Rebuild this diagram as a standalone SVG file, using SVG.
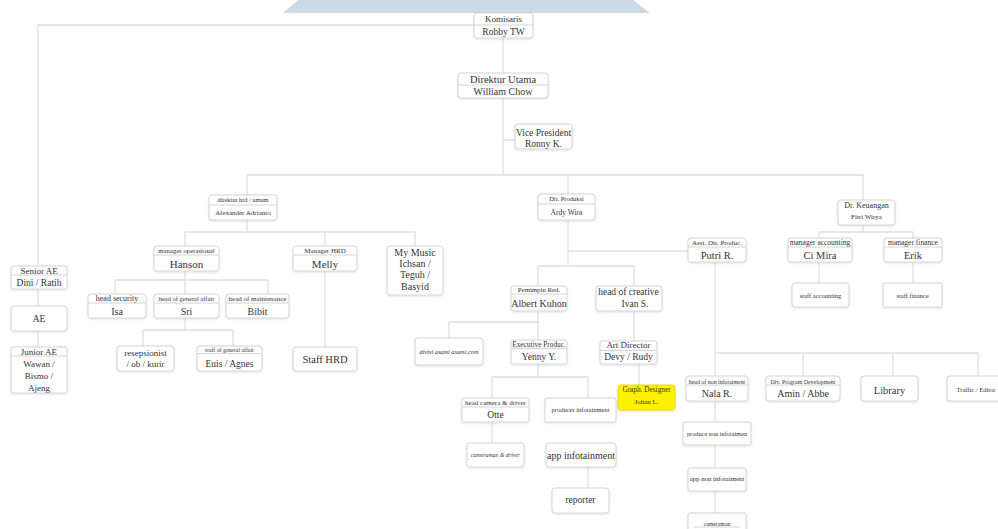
<svg xmlns="http://www.w3.org/2000/svg" width="998" height="529" viewBox="0 0 998 529">
<defs>
<filter id="sh" x="-10%" y="-10%" width="120%" height="130%">
<feDropShadow dx="0" dy="1" stdDeviation="0.8" flood-color="#000" flood-opacity="0.12"/>
</filter>
<style>
.box{fill:#fff;stroke:#d4d4d4;stroke-width:1;filter:url(#sh)}
.yel{fill:#fff200;stroke:#e8dc00;stroke-width:1;filter:url(#sh)}
.dv{stroke:#d4d4d4;stroke-width:1}
.ln{fill:none;stroke:#e0e0e0;stroke-width:1.3}
text{font-family:"Liberation Serif","Times New Roman",serif;fill:#333;text-anchor:middle}
.it{font-style:italic}
</style>
</defs>
<rect width="998" height="529" fill="#fff"/>
<polygon points="298,0 633,0 650,13 283,13" fill="#cdd9e4"/>

<g id="connectors">
<path class="ln" d="M474,25 H38 V347"/>
<path class="ln" d="M503,38 V175 M503,140 H515"/>
<path class="ln" d="M247,175 H863 M247,175 V195 M568,175 V194 M863,175 V200"/>
<path class="ln" d="M247,220 V232 M185,232 H415 M185,232 V246 M325,232 V246 M415,232 V246"/>
<path class="ln" d="M185,271 V280 M115,280 H268 M115,280 V294 M185,280 V294 M268,280 V294"/>
<path class="ln" d="M185,318 V330 M143,330 H233 M143,330 V346 M233,330 V346"/>
<path class="ln" d="M325,271 V347"/>
<path class="ln" d="M568,220 V266 M568,251 H688 M538,266 H634 M538,266 V286 M634,266 V286"/>
<path class="ln" d="M538,311 V340 M449,322 H538 M449,322 V338"/>
<path class="ln" d="M634,311 V341 M639,364 V385"/>
<path class="ln" d="M538,364 V377 M492,377 H588 M492,377 V398 M588,377 V398"/>
<path class="ln" d="M492,422 V443 M588,467 V488"/>
<path class="ln" d="M715,262 V513 M715,353 H978 M803,353 V376 M893,353 V376 M978,353 V376"/>
<path class="ln" d="M863,225 V232 M819,232 H913 M819,232 V238 M913,232 V238 M819,262 V283 M913,262 V283"/>
</g>

<g id="komisaris">
<rect class="box" x="474" y="13" width="59" height="25" rx="3"/>
<line class="dv" x1="474" y1="25" x2="533" y2="25"/>
<text x="503.5" y="22" font-size="9">Komisaris</text>
<text x="503.5" y="35" font-size="9.5">Robby TW</text>
</g>
<g id="direktur-utama">
<rect class="box" x="458" y="73" width="90" height="25" rx="3"/>
<line class="dv" x1="458" y1="85" x2="548" y2="85"/>
<text x="503" y="82.5" font-size="10.5">Direktur Utama</text>
<text x="503" y="95" font-size="10">William Chow</text>
</g>
<g id="vice-president">
<rect class="box" x="515" y="124" width="57" height="25" rx="3"/>
<text x="543.5" y="135.5" font-size="9.5">Vice President</text>
<text x="543.5" y="146.5" font-size="9.5">Ronny K.</text>
</g>
<g id="direktur-hrd">
<rect class="box" x="209" y="195" width="68" height="25" rx="3"/>
<line class="dv" x1="209" y1="205" x2="277" y2="205"/>
<text x="243" y="202.3" font-size="6.3">direktur hrd / umum</text>
<text x="243" y="215" font-size="7">Alexander Adrianto</text>
</g>
<g id="hanson">
<rect class="box" x="154" y="246" width="65" height="25" rx="3"/>
<line class="dv" x1="154" y1="255" x2="219" y2="255"/>
<text x="186.5" y="253" font-size="6.8">manager operasional</text>
<text x="186.5" y="268" font-size="11">Hanson</text>
</g>
<g id="melly">
<rect class="box" x="293" y="246" width="64" height="25" rx="3"/>
<line class="dv" x1="293" y1="255" x2="357" y2="255"/>
<text x="325" y="253" font-size="7">Manager HRD</text>
<text x="325" y="268" font-size="11">Melly</text>
</g>
<g id="my-music">
<rect class="box" x="387" y="246" width="56" height="49" rx="3"/>
<text x="415" y="255.5" font-size="10">My Music</text>
<text x="415" y="266.5" font-size="10">Ichsan /</text>
<text x="415" y="277.5" font-size="10">Teguh /</text>
<text x="415" y="289.5" font-size="10">Basyid</text>
</g>
<g id="isa">
<rect class="box" x="88" y="294" width="58" height="24" rx="3"/>
<line class="dv" x1="88" y1="303" x2="146" y2="303"/>
<text x="117" y="301.3" font-size="8">head security</text>
<text x="117" y="314.5" font-size="10">Isa</text>
</g>
<g id="sri">
<rect class="box" x="154" y="294" width="65" height="24" rx="3"/>
<line class="dv" x1="154" y1="303" x2="219" y2="303"/>
<text x="186.5" y="300.8" font-size="6.5">head of general affair</text>
<text x="186.5" y="314.5" font-size="10">Sri</text>
</g>
<g id="bibit">
<rect class="box" x="226" y="294" width="63" height="24" rx="3"/>
<line class="dv" x1="226" y1="303" x2="289" y2="303"/>
<text x="257.5" y="301" font-size="7">head of maintenance</text>
<text x="257.5" y="314.5" font-size="10">Bibit</text>
</g>
<g id="resepsionist">
<rect class="box" x="117" y="346" width="57" height="25" rx="3"/>
<text x="145.5" y="356" font-size="9">resepsionist</text>
<text x="145.5" y="367" font-size="9">/ ob / kurir</text>
</g>
<g id="euis-agnes">
<rect class="box" x="197" y="346" width="65" height="25" rx="3"/>
<line class="dv" x1="197" y1="353.5" x2="262" y2="353.5"/>
<text x="229.5" y="352" font-size="5.8">staff of general affair</text>
<text x="229.5" y="366.5" font-size="9.5">Euis / Agnes</text>
</g>
<g id="staff-hrd">
<rect class="box" x="293" y="347" width="64" height="24" rx="3"/>
<text x="325" y="362.5" font-size="10.5">Staff HRD</text>
</g>
<g id="senior-ae">
<rect class="box" x="11" y="266" width="56" height="23" rx="2"/>
<line class="dv" x1="11" y1="275" x2="67" y2="275"/>
<text x="39" y="273.5" font-size="9">Senior AE</text>
<text x="39" y="285.5" font-size="9.5">Dini / Ratih</text>
</g>
<g id="ae">
<rect class="box" x="11" y="306" width="56" height="25" rx="3"/>
<text x="39" y="322" font-size="9.5">AE</text>
</g>
<g id="junior-ae">
<rect class="box" x="11" y="347" width="56" height="46" rx="2"/>
<line class="dv" x1="11" y1="356" x2="67" y2="356"/>
<text x="39" y="354.5" font-size="9">Junior AE</text>
<text x="39" y="366.5" font-size="9">Wawan /</text>
<text x="39" y="378.5" font-size="9">Bismo /</text>
<text x="39" y="390.5" font-size="9">Ajeng</text>
</g>
<g id="dir-produksi">
<rect class="box" x="538" y="194" width="57" height="26" rx="3"/>
<line class="dv" x1="538" y1="204" x2="595" y2="204"/>
<text x="566.5" y="201.3" font-size="6.5">Dir. Produksi</text>
<text x="566.5" y="214.6" font-size="7.5">Ardy Wira</text>
</g>
<g id="albert-kuhon">
<rect class="box" x="511" y="286" width="56" height="25" rx="3"/>
<line class="dv" x1="511" y1="294" x2="567" y2="294"/>
<text x="539" y="292.3" font-size="6.8">Pemimpin Red.</text>
<text x="539" y="306.5" font-size="10">Albert Kuhon</text>
</g>
<g id="head-creative">
<rect class="box" x="596" y="286" width="66" height="25" rx="3"/>
<text x="628.5" y="295.3" font-size="9.5">head of creative</text>
<text x="635" y="306.5" font-size="9.5">Ivan S.</text>
</g>
<g id="divisi">
<rect class="box" x="415" y="338" width="68" height="27" rx="3"/>
<text class="it" x="449" y="353.7" font-size="6.3">divisi asami asami.com</text>
</g>
<g id="executive-produc">
<rect class="box" x="511" y="340" width="56" height="24" rx="2"/>
<line class="dv" x1="511" y1="348.5" x2="567" y2="348.5"/>
<text x="539" y="346.6" font-size="7.3">Executive Produc.</text>
<text x="539" y="360" font-size="9.5">Yenny Y.</text>
</g>
<g id="art-director">
<rect class="box" x="600" y="341" width="57" height="23" rx="2"/>
<line class="dv" x1="600" y1="350.5" x2="657" y2="350.5"/>
<text x="628.5" y="348" font-size="9">Art Director</text>
<text x="628.5" y="360" font-size="9.5">Devy / Rudy</text>
</g>
<g id="graph-designer">
<rect class="yel" x="618" y="385" width="57" height="25" rx="3"/>
<text x="646.5" y="391.7" font-size="7.3" fill="#555">Graph. Designer</text>
<text x="646.5" y="404" font-size="7" fill="#555">Johan L.</text>
</g>
<g id="otte">
<rect class="box" x="462" y="398" width="67" height="24" rx="1"/>
<line class="dv" x1="462" y1="407" x2="529" y2="407"/>
<text x="495.5" y="404.5" font-size="7">head camera &amp; driver</text>
<text x="495.5" y="418.3" font-size="9.5">Otte</text>
</g>
<g id="producer-infotainment">
<rect class="box" x="545" y="398" width="71" height="24" rx="2"/>
<text x="580.5" y="412.3" font-size="6.5">producer infotainment</text>
</g>
<g id="cameraman-driver">
<rect class="box" x="467" y="443" width="57" height="24" rx="3"/>
<text class="it" x="495.5" y="457" font-size="5.8">cameraman &amp; driver</text>
</g>
<g id="app-infotainment">
<rect class="box" x="546" y="443" width="70" height="24" rx="3"/>
<text x="581" y="458.5" font-size="10">app infotainment</text>
</g>
<g id="reporter">
<rect class="box" x="552" y="488" width="57" height="25" rx="3"/>
<text x="580.5" y="503" font-size="9.5">reporter</text>
</g>
<g id="putri">
<rect class="box" x="688" y="238" width="58" height="24" rx="3"/>
<line class="dv" x1="688" y1="247" x2="746" y2="247"/>
<text x="717" y="245" font-size="7">Asst. Dir. Produc.</text>
<text x="717" y="258.7" font-size="10.5">Putri R.</text>
</g>
<g id="dr-keuangan">
<rect class="box" x="838" y="200" width="57" height="25" rx="3"/>
<text x="866.5" y="207.8" font-size="8">Dr. Keuangan</text>
<text x="866.5" y="219" font-size="7">Fitri Wirya</text>
</g>
<g id="ci-mira">
<rect class="box" x="788" y="238" width="64" height="24" rx="3"/>
<line class="dv" x1="788" y1="247" x2="852" y2="247"/>
<text x="820" y="245" font-size="7.5">manager accounting</text>
<text x="820" y="258.7" font-size="10.5">Ci Mira</text>
</g>
<g id="erik">
<rect class="box" x="884" y="238" width="58" height="24" rx="3"/>
<line class="dv" x1="884" y1="247" x2="942" y2="247"/>
<text x="913" y="245" font-size="7.5">manager finance</text>
<text x="913" y="258.7" font-size="10.5">Erik</text>
</g>
<g id="staff-accounting">
<rect class="box" x="792" y="283" width="57" height="24" rx="3"/>
<text x="820.5" y="298" font-size="6.5">staff accounting</text>
</g>
<g id="staff-finance">
<rect class="box" x="883" y="283" width="59" height="24" rx="1"/>
<text x="912.5" y="298" font-size="6.5">staff finance</text>
</g>
<g id="nala">
<rect class="box" x="686" y="376" width="62" height="25" rx="3"/>
<line class="dv" x1="686" y1="385" x2="748" y2="385"/>
<text x="717" y="383.8" font-size="5.9">head of non infotaiment</text>
<text x="717" y="397" font-size="10">Nala R.</text>
</g>
<g id="amin-abbe">
<rect class="box" x="766" y="376" width="74" height="25" rx="3"/>
<line class="dv" x1="766" y1="385" x2="840" y2="385"/>
<text x="803" y="383.8" font-size="5.9">Div. Program Development</text>
<text x="803" y="397" font-size="10">Amin / Abbe</text>
</g>
<g id="library">
<rect class="box" x="861" y="376" width="57" height="25" rx="3"/>
<text x="889.5" y="393.7" font-size="10.5">Library</text>
</g>
<g id="traffic-editor">
<rect class="box" x="947" y="376" width="60" height="25" rx="3"/>
<text x="976" y="392.3" font-size="6.5">Traffic / Editor</text>
</g>
<g id="produce-non">
<rect class="box" x="683" y="422" width="68" height="23" rx="2"/>
<text x="717" y="436.3" font-size="6.3">produce non infotaimen</text>
</g>
<g id="app-non">
<rect class="box" x="688" y="468" width="58" height="23" rx="2"/>
<text x="717" y="481.4" font-size="6.8">app non infotaiment</text>
</g>
<g id="cameraman">
<rect class="box" x="688" y="513" width="58" height="22" rx="2"/>
<line class="dv" x1="694" y1="527" x2="740" y2="527"/>
<text x="717" y="526" font-size="5.8">cameraman</text>
</g>
</svg>
